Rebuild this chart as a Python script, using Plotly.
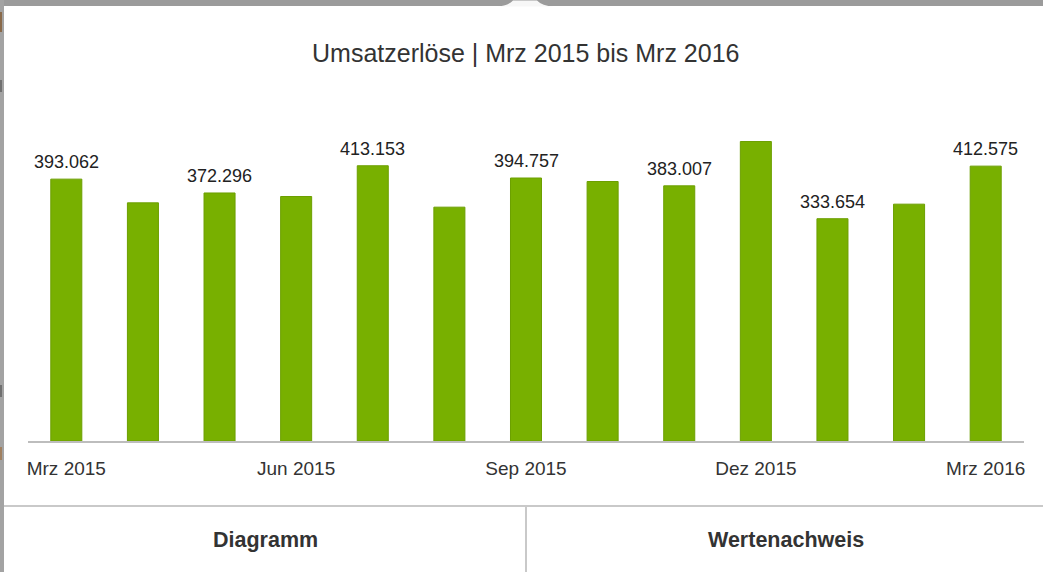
import plotly.graph_objects as go

# Monthly revenue, March 2015 to March 2016
months = ["Mrz 2015", "Apr 2015", "Mai 2015", "Jun 2015", "Jul 2015", "Aug 2015",
          "Sep 2015", "Okt 2015", "Nov 2015", "Dez 2015", "Jan 2016", "Feb 2016",
          "Mrz 2016"]
umsatz = [393062, 357500, 372296, 367000, 413153, 351000,
          394757, 389500, 383007, 449500, 333654, 355500, 412575]
labelled = [0, 2, 4, 6, 8, 10, 12]          # months whose value is printed
tick_months = ["Mrz 2015", "Jun 2015", "Sep 2015", "Dez 2015", "Mrz 2016"]
title_text = "Umsatzerlöse | Mrz 2015 bis Mrz 2016"
tabs = ["Diagramm", "Wertenachweis"]

W, H = 1043, 572
M_L, M_R, M_T, M_B = 28, 19, 100, 131
PW, PH = W - M_L - M_R, H - M_T - M_B
Y_MAX = PH * 1501

FONT = "Liberation Sans, Arial, Helvetica, sans-serif"
GREEN = "#78b000"
GREEN_EDGE = "#6c9f00"
TEXT = "#333333"


def px(x):
    return (x - M_L) / PW


def py(y):
    return (H - M_B - y) / PH


def de(v):
    return f"{v:,}".replace(",", ".")


fig = go.Figure()
fig.add_trace(go.Bar(
    x=months, y=umsatz,
    marker=dict(color=GREEN, line=dict(color=GREEN_EDGE, width=1)),
    hoverinfo="skip",
))

annotations = []
for i in labelled:
    annotations.append(dict(
        x=months[i], y=umsatz[i], xref="x", yref="y",
        text=de(umsatz[i]), showarrow=False, yanchor="middle", yshift=17,
        font=dict(family=FONT, size=18, color="#222222"),
    ))

# chart title
annotations.append(dict(
    x=px(525.5), y=py(53.5), xref="paper", yref="paper",
    text=title_text, showarrow=False, xanchor="center", yanchor="middle",
    font=dict(family=FONT, size=25, color=TEXT),
))

# tab captions in the footer
for label, cx in zip(tabs, [265.5, 786.0]):
    annotations.append(dict(
        x=px(cx), y=py(540.2), xref="paper", yref="paper",
        text=f"<b>{label}</b>", showarrow=False, xanchor="center", yanchor="middle",
        font=dict(family=FONT, size=21.5, color=TEXT),
    ))

shapes = [
    # page behind the popup
    dict(type="rect", xref="paper", yref="paper", x0=px(0), x1=px(W), y0=py(0), y1=py(6),
         fillcolor="#9b9b9b", line_width=0, layer="below"),
    dict(type="rect", xref="paper", yref="paper", x0=px(0), x1=px(4), y0=py(0), y1=py(H),
         fillcolor="#a3a3a3", line_width=0, layer="below"),
    dict(type="rect", xref="paper", yref="paper", x0=px(0), x1=px(2), y0=py(12), y1=py(32),
         fillcolor="#8a6a4a", line_width=0),
    dict(type="rect", xref="paper", yref="paper", x0=px(0), x1=px(2), y0=py(447), y1=py(460),
         fillcolor="#a08060", line_width=0),
    dict(type="rect", xref="paper", yref="paper", x0=px(0), x1=px(2), y0=py(80), y1=py(92),
         fillcolor="#707070", line_width=0),
    dict(type="rect", xref="paper", yref="paper", x0=px(0), x1=px(2), y0=py(385), y1=py(397),
         fillcolor="#707070", line_width=0),
    # pointer notch at the top edge
    dict(type="path", xref="paper", yref="paper",
         path=(f"M {px(496)},{py(6.5)} Q {px(508)},{py(6)} {px(513)},{py(0.5)} "
               f"L {px(537)},{py(0.5)} Q {px(542)},{py(6)} {px(554)},{py(6.5)} Z"),
         fillcolor="#f7f7f7", line_width=0),
    # footer separators
    dict(type="line", xref="paper", yref="paper", x0=px(4), x1=px(W), y0=py(506), y1=py(506),
         line=dict(color="#c9c9c9", width=2)),
    dict(type="line", xref="paper", yref="paper", x0=px(526), x1=px(526), y0=py(506), y1=py(H),
         line=dict(color="#c9c9c9", width=2)),
]

fig.update_layout(
    width=W, height=H,
    margin=dict(l=M_L, r=M_R, t=M_T, b=M_B, pad=0),
    paper_bgcolor="white", plot_bgcolor="white",
    bargap=0.595,
    showlegend=False,
    font=dict(family=FONT, color=TEXT),
    xaxis=dict(
        type="category", range=[-0.5, 12.5],
        tickmode="array", tickvals=tick_months, ticktext=tick_months,
        showline=True, linecolor="#bdbdbd", linewidth=2,
        ticks="", showgrid=False, zeroline=False,
        ticklabelstandoff=9,
        tickfont=dict(family=FONT, size=19, color=TEXT),
        fixedrange=True,
    ),
    yaxis=dict(range=[0, Y_MAX], visible=False, fixedrange=True),
    annotations=annotations,
    shapes=shapes,
)

fig.write_html("out.html", config={"displayModeBar": False})
